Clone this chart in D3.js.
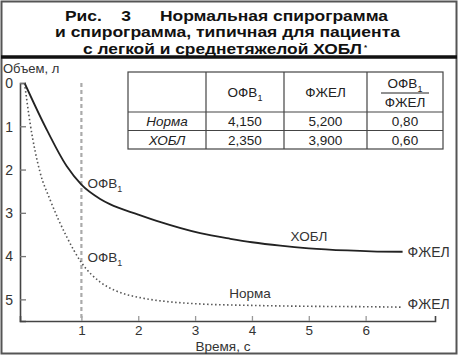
<!DOCTYPE html>
<html><head><meta charset="utf-8">
<script src="https://cdn.jsdelivr.net/npm/d3@7"></script>
<style>body{margin:0;background:#fff}svg{display:block}</style>
</head><body>
<svg id="c" width="462" height="358"></svg>
<script>
const titleLines = ["Рис.    3      Нормальная спирограмма", "и спирограмма, типичная для пациента", "с легкой и среднетяжелой ХОБЛ"];
const xTicks = [1,2,3,4,5,6];
const yTicks = [0,1,2,3,4,5];
const copdTime = [0,0.36,0.74,1.0,1.33,1.5,2.0,2.38,3.09,3.62,4.0,4.5,5.0,5.68,6.1,6.65];
const copdVol  = [0,1.0,1.92,2.35,2.68,2.8,3.04,3.21,3.47,3.6,3.68,3.76,3.82,3.87,3.89,3.9];
const normTime = [0,0.1,0.27,0.45,0.74,1.0,1.33,1.6,2.03,2.5,3.0,4.0,5.0,6.0,6.65];
const normVol  = [0,0.95,2.05,2.7,3.55,4.15,4.6,4.8,4.96,5.05,5.1,5.14,5.16,5.17,5.18];
const tableHeader = ["", "ОФВ1", "ФЖЕЛ", "ОФВ1/ФЖЕЛ"];
const rowNames = ["Норма", "ХОБЛ"];
const fev1 = ["4,150", "2,350"];
const fvc = ["5,200", "3,900"];
const ratio = ["0,80", "0,60"];

const svg = d3.select("#c");
const F = "'Liberation Sans', Arial, sans-serif";

// outer frame
svg.append("rect").attr("x",1.5).attr("y",1.5).attr("width",455).attr("height",352)
  .attr("fill","none").attr("stroke","#555").attr("stroke-width",2);
svg.append("line").attr("x1",1).attr("x2",457).attr("y1",57).attr("y2",57)
  .attr("stroke","#111").attr("stroke-width",3.5);

// title
const titleSpan = [[65,388],[55,400],[83,362]];
titleLines.forEach((t,i)=>{
  const [a,b] = titleSpan[i];
  svg.append("text").attr("x",a).attr("y",20.5+i*16.5)
    .attr("font-family",F).attr("font-weight","bold").style("white-space","pre")
    .attr("font-size",14.5).attr("fill","#111").attr("textLength",b-a).attr("lengthAdjust","spacingAndGlyphs").text(t);
  if(i===2){ svg.append("text").attr("x",b+2).attr("y",20.5+i*16.5-4).attr("font-family",F)
    .attr("font-weight","bold").attr("font-size",8).attr("fill","#111").text("*"); }
});

const x = d3.scaleLinear().domain([-0.08, 7.22]).range([20, 435]);
const y = d3.scaleLinear().domain([0, 5.5]).range([83, 321]);

// axes
const gx = svg.append("g").attr("transform","translate(0,321)")
  .call(d3.axisBottom(x).tickValues(xTicks).tickSize(-5).tickPadding(4.5).tickFormat(d3.format("d")));
gx.select(".domain").attr("stroke","#444").attr("stroke-width",1.6);
gx.selectAll(".tick line").attr("stroke","#999").attr("stroke-width",1.3);
gx.selectAll(".tick text").attr("font-family",F).attr("font-size",13.5).attr("fill","#333");

const gy = svg.append("g").attr("transform","translate(20,0)")
  .call(d3.axisLeft(y).tickValues(yTicks).tickSize(-6).tickPadding(7).tickFormat(d3.format("d")));
gy.select(".domain").attr("stroke","#444").attr("stroke-width",1.6);
gy.selectAll(".tick line").attr("stroke","#777").attr("stroke-width",1.3);
gy.selectAll(".tick text").attr("font-family",F).attr("font-size",14).attr("fill","#333").attr("dy","0.35em");

svg.append("text").attr("x",3).attr("y",73).attr("font-family",F).attr("font-size",13)
  .attr("fill","#333").text("Объем, л");
svg.append("text").attr("x",223).attr("y",351).attr("text-anchor","middle").attr("font-family",F)
  .attr("font-size",13.5).attr("fill","#333").text("Время, с");

// FEV1 vertical guide at t=1
svg.append("line").attr("x1",x(1)).attr("x2",x(1)).attr("y1",y(0)).attr("y2",y(5.5))
  .attr("stroke","#aaa").attr("stroke-width",2.2).attr("stroke-dasharray","4,3");

const line = d3.line().x(d=>x(d[0])).y(d=>y(d[1])).curve(d3.curveMonotoneX);
svg.append("path").datum(copdTime.map((t,i)=>[t,copdVol[i]])).attr("d",line)
  .attr("fill","none").attr("stroke","#222").attr("stroke-width",1.8);
svg.append("path").datum(normTime.map((t,i)=>[t,normVol[i]])).attr("d",line)
  .attr("fill","none").attr("stroke","#555").attr("stroke-width",1.6).attr("stroke-dasharray","1.5,2.5");

function sub(sel, main, s){
  sel.append("tspan").text(main);
  sel.append("tspan").attr("dy",4).attr("font-size",9).text(s);
}
const lab = (tx,ty,anchor,fs)=>svg.append("text").attr("x",tx).attr("y",ty).attr("text-anchor",anchor||"start")
  .attr("font-family",F).attr("font-size",fs||13.5).attr("fill","#333");
sub(lab(x(1)+6, y(2.35)+3), "ОФВ", "1");
sub(lab(x(1)+6, y(4.15)-1), "ОФВ", "1");
lab(x(6.65)+5, y(3.9)+5, "start", 14).text("ФЖЕЛ");
lab(x(6.65)+5, y(5.18)+2, "start", 14).text("ФЖЕЛ");
lab(309, 241, "middle").text("ХОБЛ");
lab(250, 298, "middle").text("Норма");

// table
const colX = [128, 206, 284, 367, 443];
const rowY = [72, 112, 130.5, 149];
const tg = svg.append("g").attr("font-family",F).attr("font-size",13.5).attr("fill","#222");
tg.append("rect").attr("x",colX[0]).attr("y",rowY[0]).attr("width",colX[4]-colX[0]).attr("height",rowY[3]-rowY[0])
  .attr("fill","#fff").attr("stroke","#444").attr("stroke-width",1.2);
[1,2].forEach(i=>tg.append("line").attr("x1",colX[0]).attr("x2",colX[4]).attr("y1",rowY[i]).attr("y2",rowY[i]).attr("stroke","#444").attr("stroke-width",1.2));
[1,2,3].forEach(i=>tg.append("line").attr("x1",colX[i]).attr("x2",colX[i]).attr("y1",rowY[0]).attr("y2",rowY[3]).attr("stroke","#444").attr("stroke-width",1.2));
const cx = i=>(colX[i]+colX[i+1])/2;
const h1 = tg.append("text").attr("x",cx(1)).attr("y",97).attr("text-anchor","middle");
sub(h1, tableHeader[1].slice(0,3), "1");
tg.append("text").attr("x",cx(2)).attr("y",97).attr("text-anchor","middle").text(tableHeader[2]);
const [rn, rd] = tableHeader[3].split("/");
const h3 = tg.append("text").attr("x",cx(3)).attr("y",88).attr("text-anchor","middle");
sub(h3, rn.slice(0,3), "1");
tg.append("line").attr("x1",cx(3)-24).attr("x2",cx(3)+24).attr("y1",93).attr("y2",93).attr("stroke","#222").attr("stroke-width",1);
tg.append("text").attr("x",cx(3)).attr("y",107).attr("text-anchor","middle").text(rd);
rowNames.forEach((r,i)=>{
  const yy = (rowY[i+1]+rowY[i+2])/2 + 5;
  tg.append("text").attr("x",cx(0)).attr("y",yy).attr("text-anchor","middle").attr("font-style","italic").text(r);
  tg.append("text").attr("x",cx(1)).attr("y",yy).attr("text-anchor","middle").text(fev1[i]);
  tg.append("text").attr("x",cx(2)).attr("y",yy).attr("text-anchor","middle").text(fvc[i]);
  tg.append("text").attr("x",cx(3)).attr("y",yy).attr("text-anchor","middle").text(ratio[i]);
});
</script>
</body></html>
